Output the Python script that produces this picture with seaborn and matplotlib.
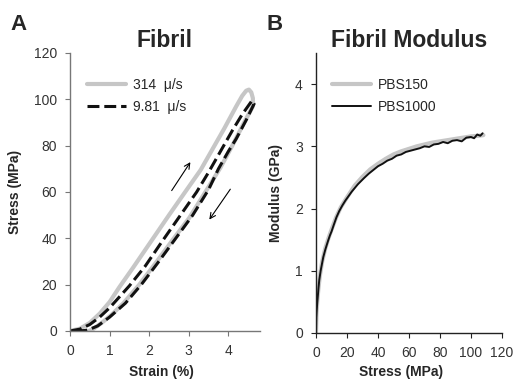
import numpy as np
import pandas as pd
import seaborn as sns
from matplotlib import pyplot as plt

sns.set_style("ticks")
plt.rcParams['font.family'] = ['Liberation Sans', 'DejaVu Sans']

# panel A: stress-strain loops (loading then unloading)
strain_fast = [0, 0.25, 0.5, 0.75, 1.0, 1.25, 1.6, 2.1, 2.5, 2.95, 3.3, 3.6, 3.9, 4.2, 4.35, 4.45, 4.52, 4.58, 4.62,
               4.62, 4.4, 4.1, 3.8, 3.42, 3.02, 2.58, 2.15, 1.75, 1.35, 1.05, 0.8, 0.6, 0.48]
stress_fast = [0, 1, 3.5, 7.5, 12.5, 19, 27.5, 40, 50, 61, 69.5, 78.5, 87.5, 97, 101.5, 103.7, 104.2, 103, 100.5,
               97, 90, 80, 70.5, 60, 49, 39, 29, 20, 12, 7, 3.5, 1, 0]

strain_slow = [0, 0.25, 0.5, 0.75, 1.0, 1.5, 1.9, 2.3, 2.75, 3.2, 3.5, 3.8, 4.1, 4.35, 4.6,
               4.65, 4.45, 4.2, 4.0, 3.75, 3.5, 3.1, 2.65, 2.2, 1.8, 1.4, 1.0, 0.7, 0.45, 0.25, 0.1, 0]
stress_slow = [0, 0.8, 2.8, 6, 10, 19.5, 28, 38, 49, 60, 68.5, 77.5, 86.5, 93.5, 99.5,
               98, 91, 83, 77.5, 70, 61, 50, 39.5, 29, 20, 12, 6, 2.2, 0.4, 0, 0.1, 0.3]

# panel B: modulus vs stress
stress_150 = [0, 0.3, 0.8, 1.5, 2.5, 4, 6, 8, 10, 13, 16, 20, 25, 30, 35, 40, 45, 50, 55, 60,
              65, 70, 75, 80, 85, 90, 95, 100, 105, 108]
modulus_150 = [0, 0.3, 0.5, 0.7, 0.92, 1.15, 1.36, 1.52, 1.66, 1.86, 2.02, 2.18, 2.37, 2.51, 2.63, 2.72, 2.8, 2.87, 2.92, 2.96,
               3.0, 3.03, 3.06, 3.08, 3.1, 3.12, 3.14, 3.16, 3.17, 3.18]

stress_1000 = [0, 0.2, 0.5, 0.8, 1.2, 1.6, 2.1, 3, 4, 4.7, 6, 7, 7.9, 9, 10, 11.5, 13.2, 15, 17, 19,
               21, 23, 25, 27, 29, 31, 34, 37, 40, 43, 46, 49, 52, 55, 58, 61, 64, 67, 70, 73,
               76, 79, 82, 85, 88, 91, 94, 97, 100, 102, 104, 106, 107.5]
modulus_1000 = [0, 0.25, 0.38, 0.48, 0.6, 0.72, 0.85, 1.0, 1.13, 1.22, 1.34, 1.42, 1.49, 1.57, 1.63, 1.74, 1.86, 1.96, 2.05, 2.13,
                2.2, 2.27, 2.33, 2.39, 2.44, 2.49, 2.56, 2.62, 2.68, 2.72, 2.77, 2.8, 2.85, 2.87, 2.91, 2.93, 2.95, 2.97, 3.0, 2.99,
                3.03, 3.04, 3.07, 3.05, 3.09, 3.1, 3.08, 3.14, 3.15, 3.13, 3.19, 3.17, 3.21]

gray = '#c6c6c6'

fig = plt.figure(figsize=(5.14, 3.8), dpi=100)
axA = fig.add_axes([70/514, 49/380, 190/514, 278/380])
axB = fig.add_axes([316/514, 47/380, 186/514, 280/380])

# A
sns.lineplot(x=strain_fast, y=stress_fast, sort=False, estimator=None, color=gray, lw=3,
             label='314  \u03bc/s', ax=axA)
sns.lineplot(x=strain_slow, y=stress_slow, sort=False, estimator=None, color='#111111', lw=2.2,
             linestyle=(0, (3.9, 1.6)), label='9.81  \u03bc/s', ax=axA)
axA.annotate('', xy=(3.08, 73.9), xytext=(2.53, 59.6),
             arrowprops=dict(arrowstyle='->', lw=0.8, color='k'))
axA.annotate('', xy=(3.48, 47.1), xytext=(4.09, 62.2),
             arrowprops=dict(arrowstyle='->', lw=0.8, color='k'))
axA.set_xlim(0, 4.8)
axA.set_ylim(0, 120)
axA.set_xticks(range(0, 5))
axA.set_yticks(range(0, 121, 20))
axA.set_title('Fibril', fontsize=16.5, fontweight='bold', pad=4)
axA.set_xlabel('Strain (%)', fontsize=10, fontweight='bold')
axA.set_ylabel('Stress (MPa)', fontsize=10, fontweight='bold')
axA.xaxis.set_label_coords(0.48, -0.122)
axA.yaxis.set_label_coords(-0.255, 0.5)
axA.legend(loc='upper left', bbox_to_anchor=(0.09, 0.91), frameon=False, fontsize=10,
           handlelength=2.8, handletextpad=0.5, labelspacing=0.55, borderpad=0, borderaxespad=0)

# B
sns.lineplot(x=stress_150, y=modulus_150, sort=False, estimator=None, color=gray, lw=3,
             label='PBS150', ax=axB)
sns.lineplot(x=stress_1000, y=modulus_1000, sort=False, estimator=None, color='#111111', lw=1.4,
             label='PBS1000', ax=axB)
axB.set_xlim(0, 120)
axB.set_ylim(0, 4.5)
axB.set_xticks(range(0, 121, 20))
axB.set_yticks(range(0, 5))
axB.set_title('Fibril Modulus', fontsize=16.5, fontweight='bold', pad=4)
axB.set_xlabel('Stress (MPa)', fontsize=10, fontweight='bold')
axB.set_ylabel('Modulus (GPa)', fontsize=10, fontweight='bold')
axB.xaxis.set_label_coords(0.46, -0.115)
axB.yaxis.set_label_coords(-0.18, 0.5)
axB.legend(loc='upper left', bbox_to_anchor=(0.085, 0.91), frameon=False, fontsize=10,
           handlelength=2.8, handletextpad=0.5, labelspacing=0.55, borderpad=0, borderaxespad=0)

for ax, sc in [(axA, '#777777'), (axB, '#222222')]:
    sns.despine(ax=ax)
    for s in ['left', 'bottom']:
        ax.spines[s].set_color(sc)
        ax.spines[s].set_linewidth(1.0)
    ax.tick_params(labelsize=10, colors=sc, labelcolor='#333333', length=3.5, width=0.8, pad=6)

fig.text(10/514, 1 - 30/380, 'A', fontsize=16, fontweight='bold')
fig.text(266/514, 1 - 30/380, 'B', fontsize=16, fontweight='bold')

plt.savefig('out.png', dpi=100)
